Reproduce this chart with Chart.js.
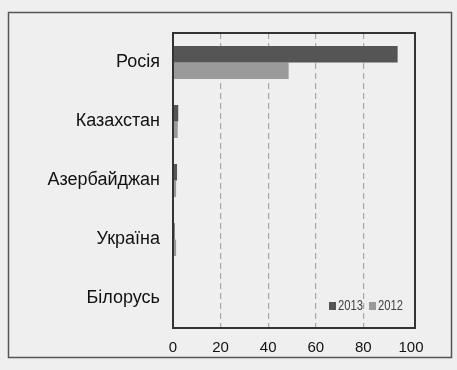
<!DOCTYPE html>
<html>
<head>
<meta charset="utf-8">
<script src="https://cdn.jsdelivr.net/npm/chart.js@4"></script>
<style>
  html, body { margin: 0; padding: 0; background: #efefef; }
  #wrap { width: 457px; height: 370px; }
</style>
</head>
<body>
<div id="wrap"><canvas id="chart" width="457" height="370"></canvas></div>
<script>
const countries = ['Росія', 'Казахстан', 'Азербайджан', 'Україна', 'Білорусь'];
const values2013 = [94.4, 2.2, 1.7, 0.7, 0.3];
const values2012 = [48.6, 2.0, 1.3, 1.3, 0.2];
const xTicks = [0, 20, 40, 60, 80, 100];

// outer frame, plot frame and the small legend in the lower right corner
const framePlugin = {
    id: 'frame',
    beforeDraw(chart) {
        const c = chart.ctx;
        c.save();
        c.fillStyle = '#efefef';
        c.fillRect(0, 0, chart.width, chart.height);
        c.strokeStyle = '#555';
        c.lineWidth = 1.5;
        c.strokeRect(8.5, 12.5, 443, 345);
        c.restore();
    },
    afterDraw(chart) {
        const a = chart.chartArea;
        const c = chart.ctx;
        c.save();
        c.strokeStyle = '#333';
        c.lineWidth = 2;
        c.strokeRect(a.left, a.top, a.right - a.left, a.bottom - a.top);
        c.textBaseline = 'middle';
        let x = 329;
        const y = 306;
        chart.data.datasets.forEach(ds => {
            c.fillStyle = ds.backgroundColor;
            c.fillRect(x, y - 4, 7, 8);
            // narrow looking text: squeeze horizontally
            c.save();
            c.translate(x + 9, y);
            c.scale(0.75, 1);
            c.font = '15px "Liberation Sans", Arial, sans-serif';
            c.fillStyle = '#444';
            c.fillText(ds.label, 0, 0);
            c.restore();
            x += 40;
        });
        c.restore();
    }
};

new Chart(document.getElementById('chart'), {
    type: 'bar',
    data: {
        labels: countries,
        datasets: [
            { label: '2013', data: values2013, backgroundColor: '#555555' },
            { label: '2012', data: values2012, backgroundColor: '#9a9a9a' }
        ]
    },
    options: {
        indexAxis: 'y',
        responsive: false,
        animation: false,
        categoryPercentage: 0.56,
        barPercentage: 1.0,
        layout: { padding: { top: 33, right: 42, left: 0, bottom: 0 } },
        plugins: {
            legend: { display: false },
            tooltip: { enabled: false }
        },
        scales: {
            x: {
                min: 0,
                max: 101.7,
                afterBuildTicks: s => { s.ticks = xTicks.map(v => ({ value: v })); },
                afterFit: s => { s.height = 42; },
                grid: {
                    drawTicks: false,
                    color: ctx => (ctx.tick && ctx.tick.value > 0 && ctx.tick.value < 100) ? '#a8a8a8' : 'rgba(0,0,0,0)',
                    lineWidth: 1.2
                },
                border: { display: false, dash: [6, 4] },
                ticks: {
                    padding: 11,
                    color: '#111',
                    font: { family: '"Liberation Sans", Arial, sans-serif', size: 15 }
                }
            },
            y: {
                afterFit: s => { s.width = 173; },
                grid: { display: false, drawTicks: false },
                border: { display: false },
                ticks: {
                    padding: 13,
                    color: '#111',
                    font: { family: '"Liberation Sans", Arial, sans-serif', size: 18 }
                }
            }
        }
    },
    plugins: [framePlugin]
});
</script>
</body>
</html>
